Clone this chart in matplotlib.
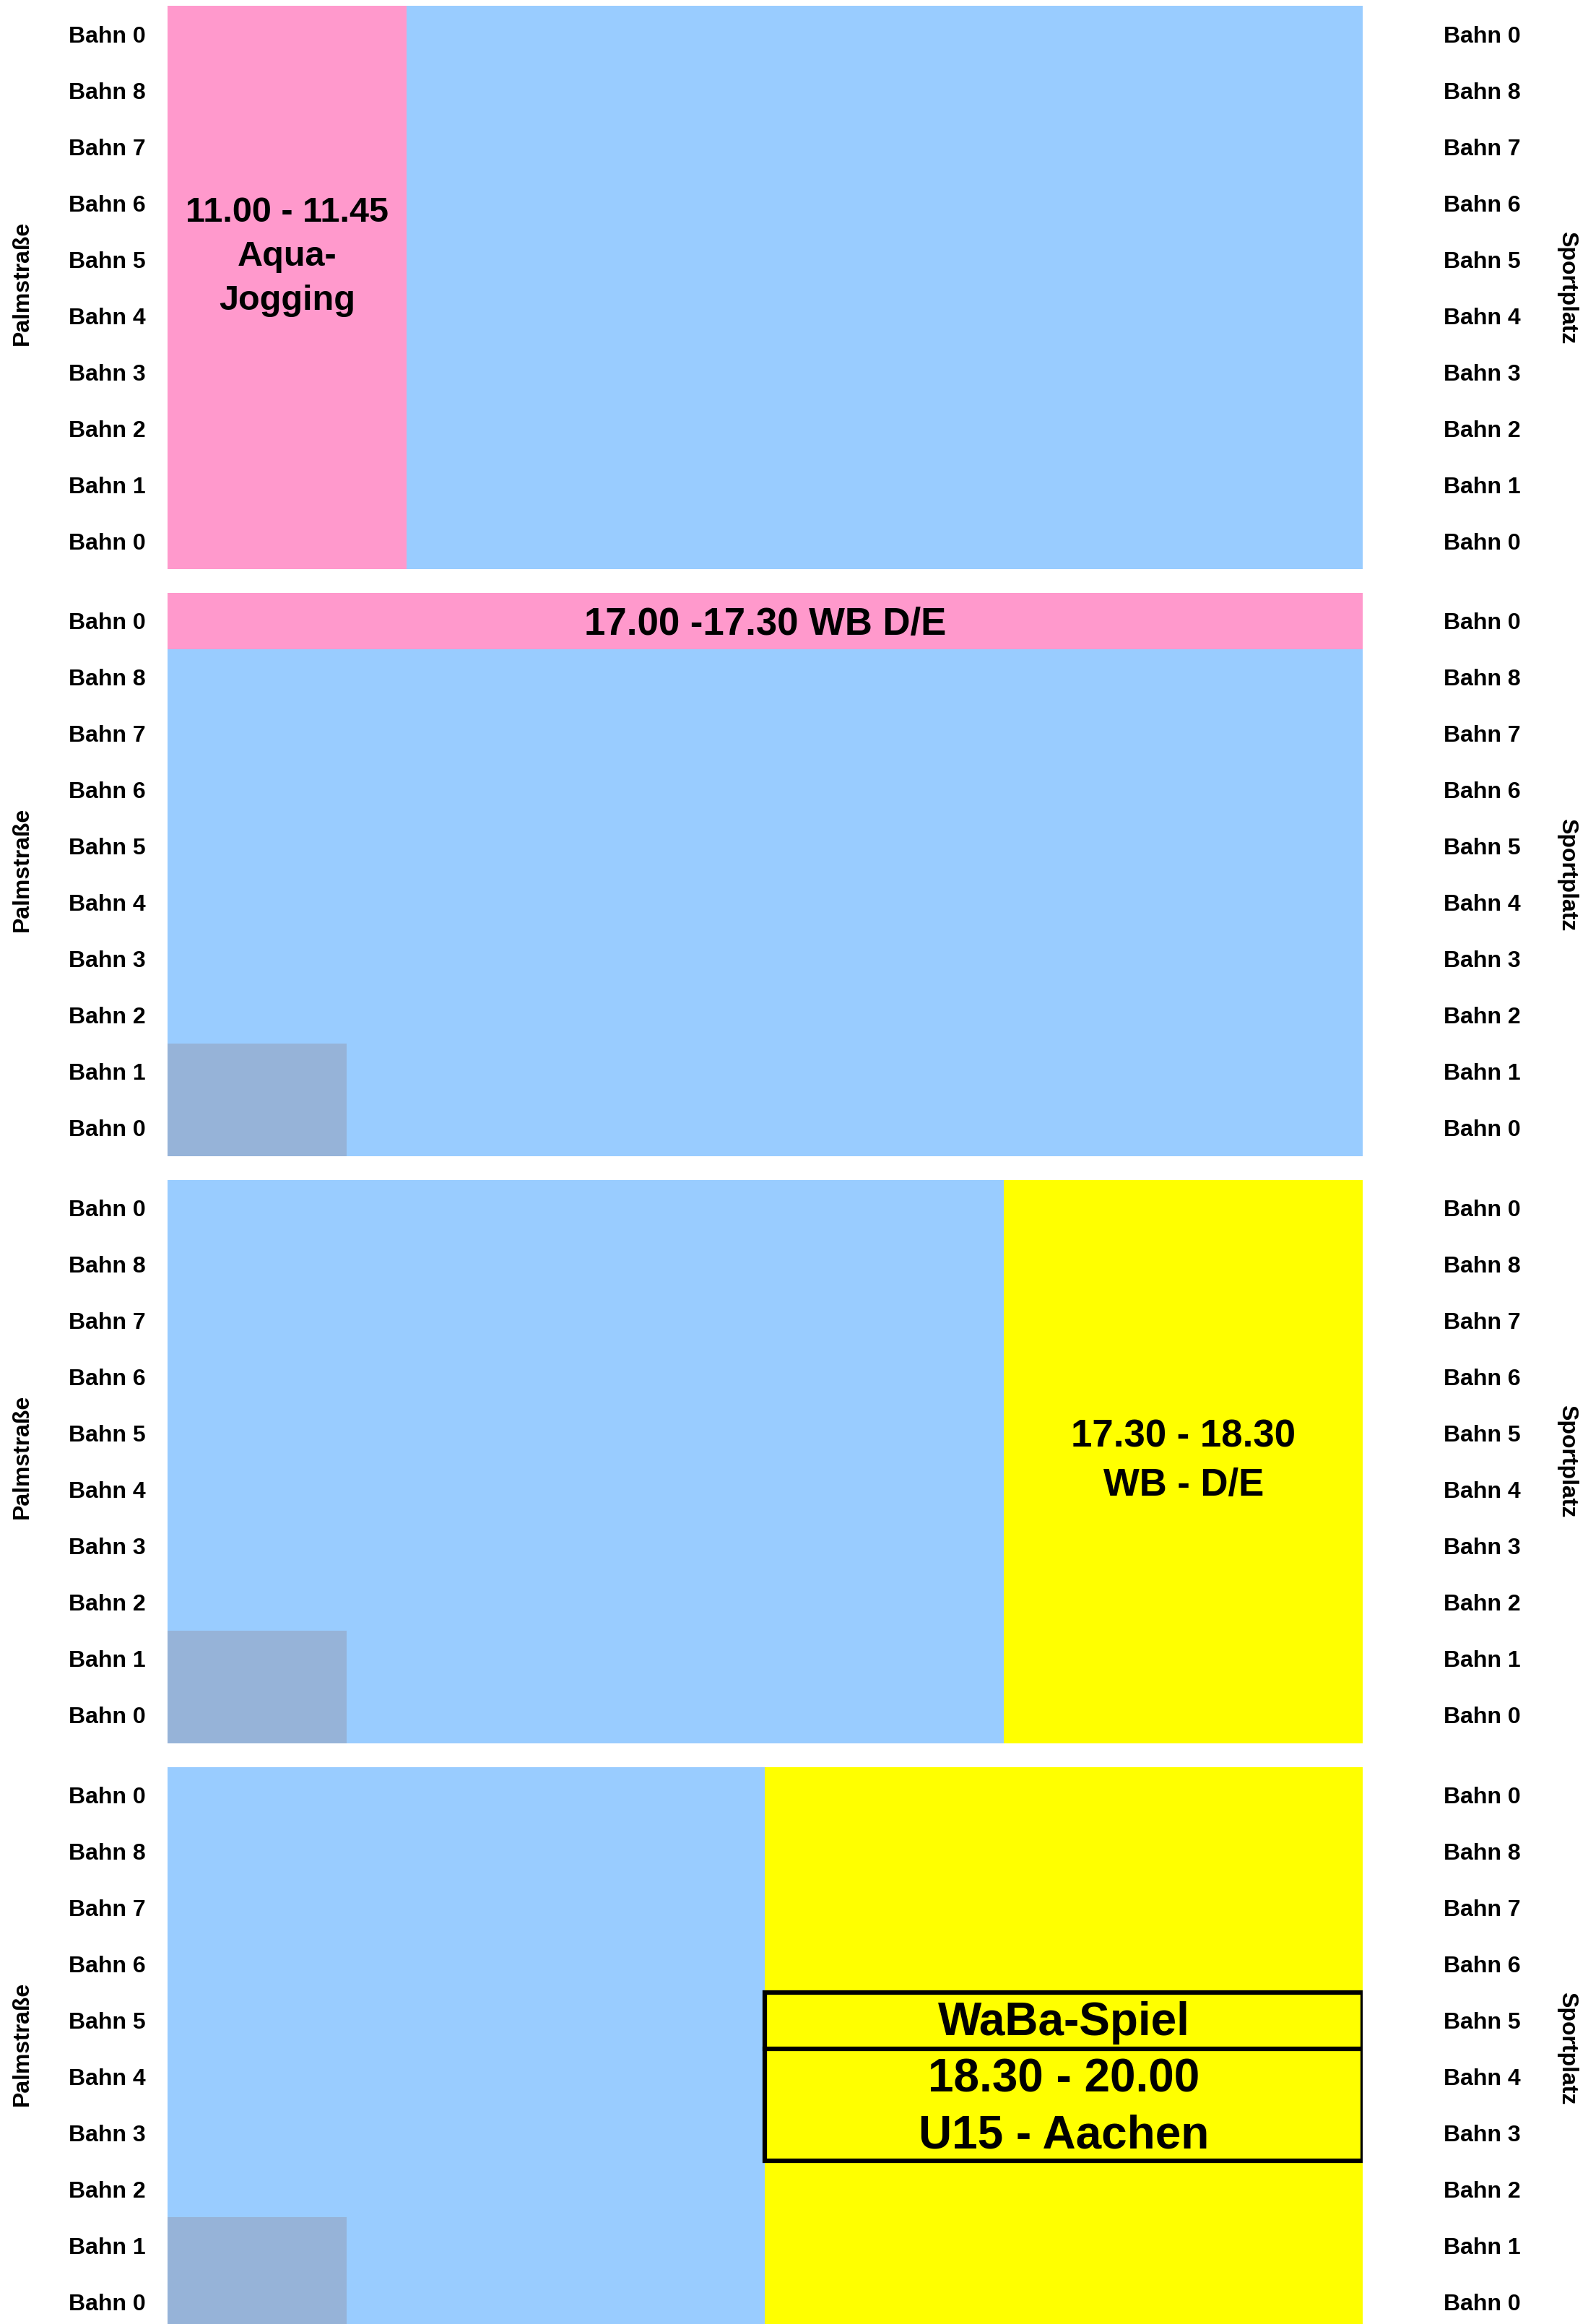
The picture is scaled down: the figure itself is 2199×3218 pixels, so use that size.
#!/usr/bin/env python3
"""
Belegungsplan Schwimmbad - vier Zeitfenster, je zehn Bahnen.
"""

import matplotlib

matplotlib.use("Agg")
import matplotlib.pyplot as plt

plt.rcParams["font.family"] = ["Liberation Sans", "DejaVu Sans"]
plt.rcParams["font.weight"] = "bold"

# Bahnen von oben nach unten
LANES = ["Bahn 0", "Bahn 8", "Bahn 7", "Bahn 6", "Bahn 5",
         "Bahn 4", "Bahn 3", "Bahn 2", "Bahn 1", "Bahn 0"]
N_COLS = 20  # Breite eines Plans in Spalten-Einheiten

LEFT_SIDE = "Palmstraße"
RIGHT_SIDE = "Sportplatz"

# Belegte Flaechen je Plan: Plan-Index, Spalte von/bis, Bahnzeile von/bis, Art
BLOCK_PANEL = [0, 1, 1, 2, 2, 3, 3]
BLOCK_COL_FROM = [0, 0, 0, 14, 0, 10, 0]
BLOCK_COL_TO = [4, 20, 3, 20, 3, 20, 3]
BLOCK_ROW_FROM = [0, 0, 8, 0, 8, 0, 8]
BLOCK_ROW_TO = [10, 1, 10, 10, 10, 10, 10]
BLOCK_KIND = ["kurs", "kurs", "reserviert", "verein", "reserviert", "verein", "reserviert"]

# Beschriftungen: Plan-Index, Spalte, Zeile, Text
LABEL_PANEL = [0, 1, 2]
LABEL_COL = [2, 10, 17]
LABEL_ROW = [4.45, 0.57, 5.0]
LABEL_TEXT = ["11.00 - 11.45\nAqua-\nJogging", "17.00 -17.30 WB D/E", "17.30 - 18.30\nWB - D/E"]
LABEL_SIZE = [35, 38, 38]

# WaBa-Spiel Kasten im letzten Plan
GAME_COL_FROM, GAME_COL_TO = 10, 20
GAME_ROWS = [4, 5, 6]
GAME_TEXT = ["WaBa-Spiel", "18.30 - 20.00", "U15 - Aachen"]

COLORS = {
    "frei": "#99ccff",
    "kurs": "#ff99cc",
    "verein": "#ffff00",
    "reserviert": "#96b3d8",
}

fig = plt.figure(figsize=(21.99, 32.18), dpi=100)

panel_bottoms = [0.7551, 0.5026, 0.2500, -0.0026]
panel_height = 0.2423
ax_left, ax_width = 0.1055, 0.7526

for p, bottom in enumerate(panel_bottoms):
    ax = fig.add_axes([ax_left, bottom, ax_width, panel_height])

    # freie Wasserflaeche
    ax.barh(0, N_COLS, left=0, height=len(LANES), align="edge",
            color=COLORS["frei"], linewidth=0)

    for i in range(len(BLOCK_PANEL)):
        if BLOCK_PANEL[i] != p:
            continue
        ax.barh(BLOCK_ROW_FROM[i], BLOCK_COL_TO[i] - BLOCK_COL_FROM[i],
                left=BLOCK_COL_FROM[i],
                height=BLOCK_ROW_TO[i] - BLOCK_ROW_FROM[i], align="edge",
                color=COLORS[BLOCK_KIND[i]], linewidth=0)

    for i in range(len(LABEL_PANEL)):
        if LABEL_PANEL[i] != p:
            continue
        ax.text(LABEL_COL[i], LABEL_ROW[i], LABEL_TEXT[i], ha="center",
                va="center", fontsize=LABEL_SIZE[i], fontweight="bold",
                linespacing=1.45)

    if p == 3:
        # Kasten mit Trennlinie unter "WaBa-Spiel"
        ax.barh(GAME_ROWS[0], GAME_COL_TO - GAME_COL_FROM, left=GAME_COL_FROM,
                height=len(GAME_ROWS), align="edge", color="none",
                edgecolor="black", linewidth=4.5)
        ax.plot([GAME_COL_FROM, GAME_COL_TO], [GAME_ROWS[1], GAME_ROWS[1]],
                color="black", linewidth=4.5)
        for row, txt in zip(GAME_ROWS, GAME_TEXT):
            ax.text((GAME_COL_FROM + GAME_COL_TO) / 2, row + 0.55, txt,
                    ha="center", va="center", fontsize=46, fontweight="bold")

    ax.set_xlim(0, N_COLS)
    ax.set_ylim(len(LANES), 0)
    ax.set_xticks([])
    ax.set_yticks([i + 0.5 for i in range(len(LANES))])
    ax.set_yticklabels(LANES, fontsize=23, fontweight="bold")
    ax.tick_params(axis="y", length=0, pad=22)
    for s in ax.spines.values():
        s.set_visible(False)

    ax_r = ax.twinx()
    ax_r.set_ylim(len(LANES), 0)
    ax_r.set_yticks([i + 0.5 for i in range(len(LANES))])
    ax_r.set_yticklabels(LANES, fontsize=23, fontweight="bold")
    ax_r.tick_params(axis="y", length=0, pad=81)
    for s in ax_r.spines.values():
        s.set_visible(False)

    mid = bottom + panel_height / 2
    fig.text(0.014, mid + 0.002, LEFT_SIDE, rotation=90, ha="center",
             va="center", fontsize=23, fontweight="bold")
    fig.text(0.987, mid, RIGHT_SIDE, rotation=-90, ha="center", va="center",
             fontsize=23, fontweight="bold")

fig.savefig("out.png", dpi=100)
plt.close(fig)
